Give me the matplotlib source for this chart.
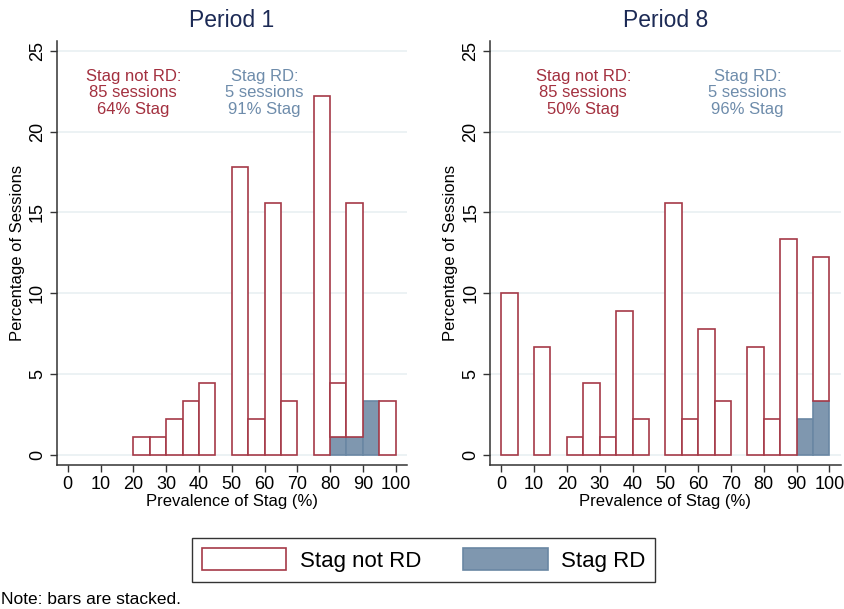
"""
Histogram of Stag prevalence by session, Period 1 vs Period 8 (stacked bars).
"""
import matplotlib
matplotlib.use("Agg")
import matplotlib.pyplot as plt
from matplotlib.patches import Patch
import numpy as np

plt.rcParams["font.family"] = ["Liberation Sans", "DejaVu Sans"]

# ── Data: session counts per 5-point bin of Stag prevalence ──────────────────
BIN_LEFT = np.arange(0, 100, 5)
N_SESSIONS = 90

P1_NOT_RD = [0, 0, 0, 0, 1, 1, 2, 3, 4, 0, 16, 2, 14, 3, 0, 20, 3, 13, 0, 3]
P1_RD     = [0, 0, 0, 0, 0, 0, 0, 0, 0, 0, 0, 0, 0, 0, 0, 0, 1, 1, 3, 0]
P8_NOT_RD = [9, 0, 6, 0, 1, 4, 1, 8, 2, 0, 14, 2, 7, 3, 0, 6, 2, 12, 0, 8]
P8_RD     = [0, 0, 0, 0, 0, 0, 0, 0, 0, 0, 0, 0, 0, 0, 0, 0, 0, 0, 2, 3]

PANELS = [
    ("Period 1", P1_NOT_RD, P1_RD, ("85 sessions", "64% Stag"), ("5 sessions", "91% Stag"), (20, 60)),
    ("Period 8", P8_NOT_RD, P8_RD, ("85 sessions", "50% Stag"), ("5 sessions", "96% Stag"), (25, 75)),
]

RED = "#a3303f"
RED_EDGE = "#a53a48"
BLUE = "#7f97af"
BLUE_EDGE = "#6a87a3"
BLUE_TXT = "#6e8cab"
TITLE = "#1c2a55"
GRID = "#e9f0f2"

fig = plt.figure(figsize=(8.44, 6.09), dpi=100)
axes_pos = [[0.0675, 0.2365, 0.4145, 0.6962], [0.581, 0.2365, 0.415, 0.6962]]

for pos, (title, not_rd, rd, red_lines, blue_lines, txt_x) in zip(axes_pos, PANELS):
    ax = fig.add_axes(pos)
    not_rd = np.array(not_rd) / N_SESSIONS * 100
    rd = np.array(rd) / N_SESSIONS * 100

    m = rd > 0
    ax.bar(BIN_LEFT[m], rd[m], width=5, align="edge", color=BLUE,
           edgecolor=BLUE_EDGE, linewidth=1.2, zorder=3)
    m = not_rd > 0
    ax.bar(BIN_LEFT[m], not_rd[m], bottom=rd[m], width=5, align="edge",
           color="white", edgecolor=RED_EDGE, linewidth=1.2, zorder=3)

    ax.text(txt_x[0], 22.4, "Stag not RD:\n" + "\n".join(red_lines), color=RED,
            ha="center", va="center", fontsize=12, linespacing=1.12)
    ax.text(txt_x[1], 22.4, "Stag RD:\n" + "\n".join(blue_lines), color=BLUE_TXT,
            ha="center", va="center", fontsize=12, linespacing=1.12)

    ax.set_xlim(-3.3, 103.4)
    ax.set_ylim(-0.62, 25.6)
    ax.set_xticks(np.arange(0, 101, 10))
    ax.set_yticks(np.arange(0, 26, 5))
    ax.yaxis.grid(True, color=GRID, linewidth=1.2, zorder=0)
    ax.set_axisbelow(True)
    for lab in ax.get_yticklabels():
        lab.set_rotation(90)
        lab.set_va("center")
    ax.tick_params(labelsize=13, length=5, width=1, color="#333333", pad=3)
    for s in ("top", "right"):
        ax.spines[s].set_visible(False)
    for s in ("left", "bottom"):
        ax.spines[s].set_color("#333333")
        ax.spines[s].set_linewidth(1.1)

    ax.set_title(title, fontsize=16.5, color=TITLE, pad=10)
    ax.set_xlabel("Prevalence of Stag (%)", fontsize=12, labelpad=1)
    ax.set_ylabel("Percentage of Sessions", fontsize=12, labelpad=3)

handles = [Patch(facecolor="white", edgecolor=RED_EDGE, linewidth=1.2, label="Stag not RD"),
           Patch(facecolor=BLUE, edgecolor=BLUE_EDGE, linewidth=1.2, label="Stag RD")]
fig.legend(handles=handles, loc="center", bbox_to_anchor=(0.502, 0.0805), ncol=2,
           fontsize=16, frameon=True, fancybox=False, edgecolor="black",
           handlelength=3.8, handleheight=1.1, handletextpad=0.6,
           columnspacing=1.9, borderpad=0.45)
fig.text(0.001, 0.015, "Note: bars are stacked.", fontsize=12.5, ha="left", va="center")

fig.savefig("out.png", dpi=100)
plt.close(fig)
